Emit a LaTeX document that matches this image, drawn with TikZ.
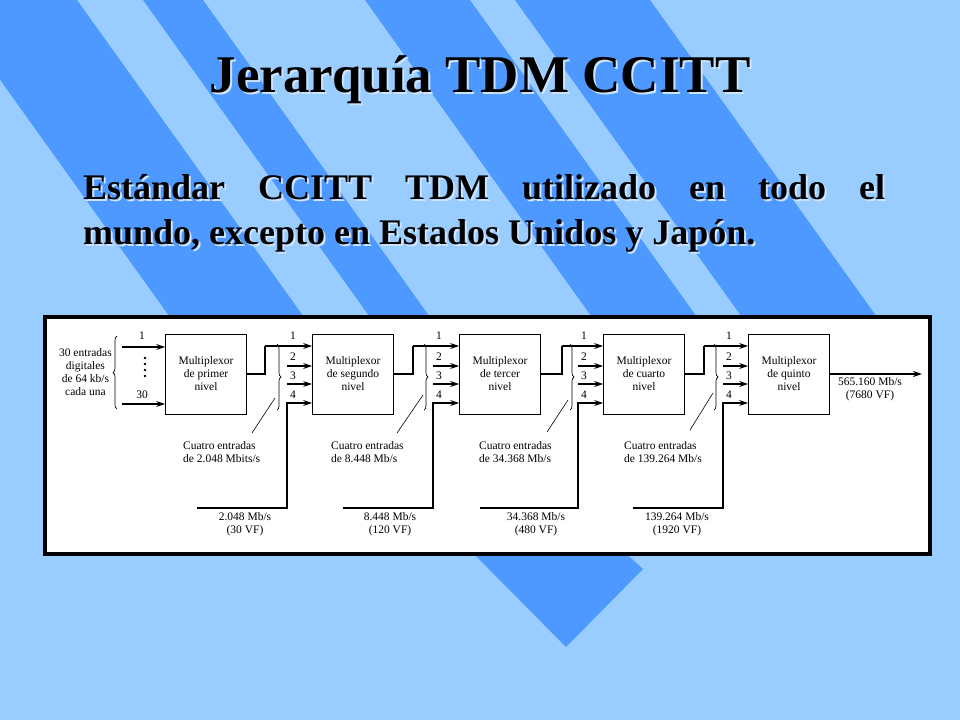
\documentclass[tikz,border=0pt]{standalone}
\usepackage{fontspec}
\setmainfont{Liberation Serif}
\usepackage{tikz}
\usetikzlibrary{positioning, arrows.meta, calc, decorations.pathreplacing}

\definecolor{slidebg}{RGB}{153,204,255}
\definecolor{stripe}{RGB}{77,153,255}
\definecolor{shade}{RGB}{205,228,255}
\newcommand{\mbs}{Mb/s}
\newcommand{\mbits}{Mbits/s}

\begin{document}
\begin{tikzpicture}[x=1pt, y=-1pt, >=Stealth,
    mux/.style={draw, line width=0.8pt, align=center, minimum width=81pt, minimum height=80pt,
      inner sep=1pt, font=\fontsize{11.5}{13}\selectfont},
    sig/.style={line width=1.6pt},
    sigin/.style={line width=1.6pt, -{Stealth[length=9pt, width=6pt]}},
    lab/.style={font=\fontsize{11.5}{13}\selectfont, inner sep=1pt, align=center},
    brc/.style={decorate, decoration={brace, amplitude=4pt}, line width=0.7pt}]

  % background and stripes
  \fill[slidebg] (0,0) rectangle (960,720);
  \useasboundingbox (0,0) rectangle (960,720);
  \fill[stripe] (-57,0) -- (77,0) -- (306,320) -- (172,320) -- cycle;
  \fill[stripe] (143,0) -- (203,0) -- (432,320) -- (372,320) -- cycle;
  \fill[stripe] (365,0) -- (470,0) -- (699,320) -- (594,320) -- cycle;
  \fill[stripe] (515,0) -- (650,0) -- (879,320) -- (744,320) -- cycle;
  \fill[stripe] (470,550) -- (622,550) -- (643,569) -- (566,647) -- cycle;

  % title and text
  \node[text=shade, font=\bfseries\fontsize{53}{60}\selectfont] at (482,82) {Jerarquía TDM CCITT};
  \node[font=\bfseries\fontsize{53}{60}\selectfont] (title) at (480,80) {Jerarquía TDM CCITT};
  \node[text=shade, anchor=north west, inner sep=0pt, text width=802pt, align=justify,
    font=\bfseries\fontsize{36}{45}\selectfont] at (85,176)
    {Estándar CCITT TDM utilizado en todo el\linebreak mundo, excepto en Estados Unidos y Japón.};
  \node[anchor=north west, inner sep=0pt, text width=802pt, align=justify,
    font=\bfseries\fontsize{36}{45}\selectfont] (sub) at (83,174)
    {Estándar CCITT TDM utilizado en todo el\linebreak mundo, excepto en Estados Unidos y Japón.};

  % diagram frame
  \draw[line width=4pt, fill=white] (45,317) rectangle (930,554);

  \node[mux] (m1) at (206,374) {Multiplexor\\de primer\\nivel};
  \node[mux] (m2) at (353,374) {Multiplexor\\de segundo\\nivel};
  \node[mux] (m3) at (500,374) {Multiplexor\\de tercer\\nivel};
  \node[mux] (m4) at (644,374) {Multiplexor\\de cuarto\\nivel};
  \node[mux] (m5) at (789,374) {Multiplexor\\de quinto\\nivel};

  % first level inputs
  \coordinate (a1) at (122,347);
  \coordinate (a30) at (122,404);
  \draw[sigin] (a1) -- (a1 -| m1.west);
  \draw[sigin] (a30) -- (a30 -| m1.west);
  \node[lab] at (142,336) {1};
  \node[lab] at (142,395) {30};
  \foreach \d in {358,364,370,376}
    \fill (145,\d) circle (1.4pt);
  \draw[brc] (117,409) -- (117,336);
  \node[lab, anchor=east] (in30) at (113,372) {30 entradas\\digitales\\de 64 kb/s\\cada una};

  % higher levels
  \foreach \p/\m/\rx/\sx/\bx/\bl/\bc/\ul/\lax/\lay/\lbx/\lby/\rin/\rout/\vf in {
      m1/m2/265/287/277/197/245/182/275/398/252/433/2.048 \mbits/2.048/30,
      m2/m3/413/433/424/343/390/330/423/395/397/433/8.448 \mbs/8.448/120,
      m3/m4/562/578/570/480/536/478/568/400/547/432/34.368 \mbs/34.368/480,
      m4/m5/704/723/714/633/677/623/713/393/690/430/139.264 \mbs/139.264/1920} {
    \draw[sig] (\p.east) -| (\rx,346);
    \draw[sigin] (\rx,346) -- ($(\m.west)+(0,-28)$);
    \draw[sigin] (\sx,366) -- ($(\m.west)+(0,-8)$);
    \draw[sigin] (\sx,384) -- ($(\m.west)+(0,10)$);
    \draw[sigin] (\bl,508) -| (\sx,403) -- ($(\m.west)+(0,29)$);
    \node[lab] at (\sx+6,336) {1};
    \node[lab] at (\sx+6,357) {2};
    \node[lab] at (\sx+6,376) {3};
    \node[lab] at (\sx+6,395) {4};
    \draw[brc] (\bx,344) -- (\bx,410);
    \draw[line width=0.6pt] (\lax,\lay) -- (\lbx,\lby);
    \node[lab, anchor=north west, align=left] at (\ul,440) {Cuatro entradas\\de \rin};
    \node[lab] at (\bc,524) {\rout\ \mbs\\(\vf\ VF)};
  }

  % output
  \coordinate (out) at (922,374);
  \draw[sigin] (m5.east) -- (out);
  \node[lab] at (870,389) {565.160 \mbs\\(7680 VF)};
\end{tikzpicture}
\end{document}
